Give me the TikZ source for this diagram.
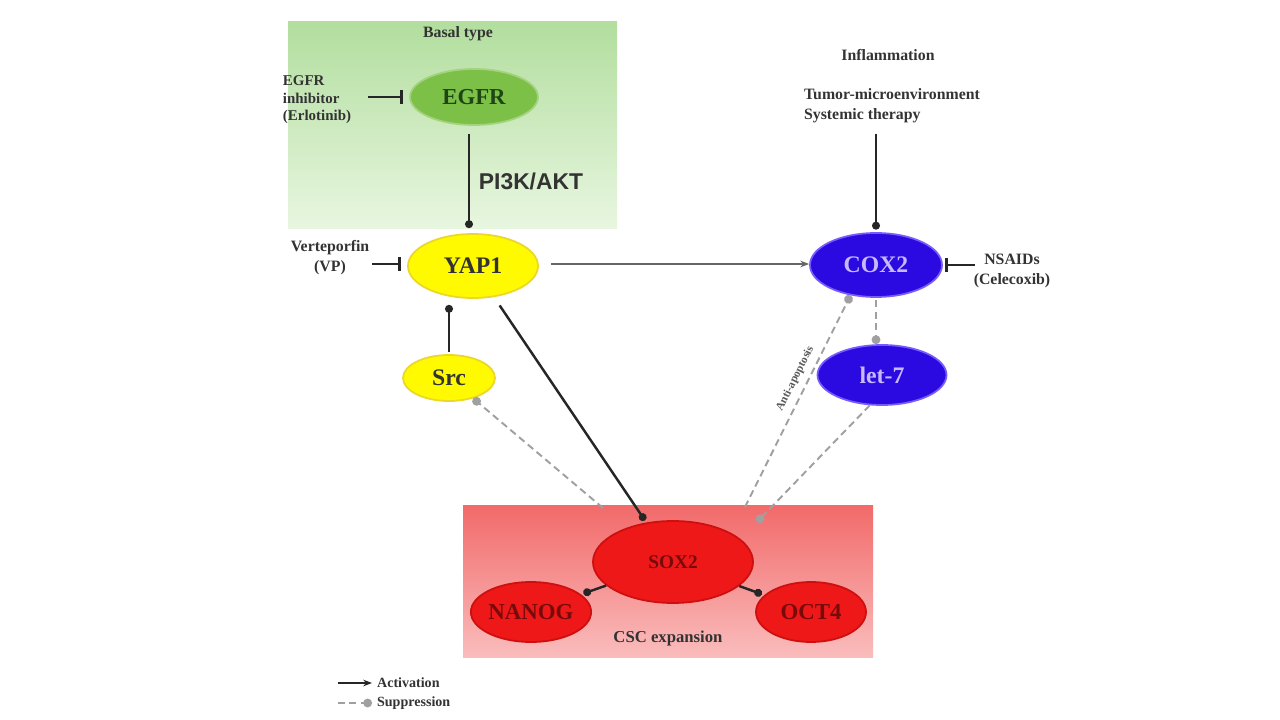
\documentclass[tikz,border=0pt]{standalone}
\usepackage{fontspec}
\setmainfont{Liberation Serif}
\newfontfamily\labelsans{Liberation Sans}
\usetikzlibrary{arrows.meta,shapes.geometric}
\definecolor{egfrgreen}{RGB}{125,192,72}
\definecolor{egfrtext}{RGB}{30,70,20}
\definecolor{ylw}{RGB}{255,250,0}
\definecolor{ylwborder}{RGB}{235,215,40}
\definecolor{blu}{RGB}{42,10,225}
\definecolor{bluborder}{RGB}{120,90,255}
\definecolor{blutext}{RGB}{200,185,255}
\definecolor{rd}{RGB}{238,24,24}
\definecolor{rdborder}{RGB}{205,15,15}
\definecolor{rdtext}{RGB}{120,10,10}
\definecolor{supgray}{RGB}{160,160,160}
\begin{document}
\begin{tikzpicture}[x=0.2mm,y=-0.2mm,font=\bfseries,
  ell/.style={ellipse,draw,line width=1pt,inner sep=0pt},
  gell/.style={ell,fill=egfrgreen,draw=egfrgreen!70!white,text=egfrtext,font=\fontsize{13}{14}\selectfont\bfseries},
  yell/.style={ell,fill=ylw,draw=ylwborder,text=black!80,font=\fontsize{13.5}{14}\selectfont\bfseries},
  bell/.style={ell,fill=blu,draw=bluborder,text=blutext,font=\fontsize{13.5}{14}\selectfont\bfseries},
  rell/.style={ell,fill=rd,draw=rdborder,text=rdtext,font=\fontsize{13}{14}\selectfont\bfseries},
  small/.style={font=\fontsize{9}{11.4}\selectfont\bfseries,text=black!80,inner sep=1pt},
  act/.style={line width=1.4pt,draw=black!85,-{Circle[length=4.5pt]}},
  sup/.style={line width=1.1pt,draw=supgray,dash pattern=on 4pt off 2.5pt,-{Circle[length=5pt,fill=supgray]}},
  inh/.style={line width=1.7pt,draw=black!85,-{Bar[width=8pt,line width=1.7pt]}},
  plain/.style={line width=1pt,draw=black!60,-{Stealth[length=5pt]}}]
\useasboundingbox (0,0) rectangle (1280,720);
% background boxes
\node[minimum width=65.8mm,minimum height=41.2mm,inner sep=0pt,
  top color={rgb,255:red,178;green,222;blue,158},bottom color={rgb,255:red,232;green,246;blue,224}] (basalbox) at (452.5,125) {};
\node[minimum width=82mm,minimum height=30.4mm,inner sep=0pt,
  top color={rgb,255:red,242;green,106;blue,106},bottom color={rgb,255:red,250;green,188;blue,188}] (cscbox) at (668,581) {};
% texts
\node[small] (basal) at (458,34) {Basal type};
\node[small,align=left,font=\fontsize{8.5}{10}\selectfont\bfseries] (egfri) at (317,100) {EGFR\\inhibitor\\(Erlotinib)};
\node[small] (pi3k) at (531,181) {\labelsans\fontsize{13}{14}\selectfont PI3K/AKT};
\node[small,align=center] (vp) at (330,258) {Verteporfin\\(VP)};
\node[small] (infl) at (888,55) {Inflammation};
\node[small,align=left,anchor=north west] (tumor) at (802,86) {Tumor-microenvironment\\Systemic therapy};
\node[small,align=center] (nsaids) at (1012,271) {NSAIDs\\(Celecoxib)};
\node[small,font=\fontsize{9.5}{11}\selectfont\bfseries] (csc) at (668,638) {CSC expansion};
% main nodes
\node[gell,minimum width=25.6mm,minimum height=11.2mm] (egfr) at (474,97) {EGFR};
\node[yell,minimum width=26mm,minimum height=12.8mm] (yap) at (473,266) {YAP1};
\node[yell,minimum width=18.4mm,minimum height=9.2mm] (src) at (449,378) {Src};
\node[bell,minimum width=26.4mm,minimum height=12.8mm] (cox) at (876,265) {COX2};
\node[bell,minimum width=25.8mm,minimum height=12mm] (let) at (882,375) {let-7};
\node[rell,minimum width=32mm,minimum height=16.4mm,font=\fontsize{11}{12}\selectfont\bfseries] (sox) at (673,562) {SOX2};
\node[rell,minimum width=22mm,minimum height=12mm] (nanog) at (531,612) {NANOG};
\node[rell,minimum width=22mm,minimum height=12mm] (oct) at (811,612) {OCT4};
% coordinates
\coordinate (c1) at (603,508);
\coordinate (c2) at (745,507);
\coordinate (c3) at (757,522);
% connectors
\draw[inh,shorten <=3mm,shorten >=1.2mm] (egfri.east |- egfr) -- (egfr.west);
\draw[act,shorten <=1.6mm,shorten >=1mm] ([xshift=-1mm]egfr.south) -- ([xshift=-1mm]egfr.south |- yap.north);
\draw[inh,shorten <=0.2mm,shorten >=1.2mm] ([yshift=0.4mm]vp.east |- yap.west) -- ([yshift=0.4mm]yap.west);
\draw[plain,shorten <=2.4mm] ([yshift=0.4mm]yap.east) -- ([yshift=0.4mm]yap.east -| cox.west);
\draw[act,shorten <=0.5mm,shorten >=1.2mm] (src.north) -- (src.north |- yap.south);
\draw[act,shorten <=2mm,shorten >=0.5mm] (yap) -- (sox);
\draw[sup] (c1) -- (src);
\draw[act,shorten >=0.5mm] (sox) -- (nanog);
\draw[act,shorten >=0.5mm] (sox) -- (oct);
\draw[act,shorten <=1.8mm,shorten >=0.5mm] (tumor.south -| cox) -- (cox.north);
\draw[inh,shorten <=-0.6mm,shorten >=0.5mm] (nsaids.west |- cox) -- (cox.east);
\draw[sup,shorten <=0.5mm] (cox.south) -- (cox.south |- let.north);
\draw[sup] (c2) -- node[pos=0.58,sloped,above=3pt,font=\fontsize{6.5}{7}\selectfont\bfseries,text=black!65,inner sep=0.5pt] (anti) {Anti-apoptosis} (cox.-130);
\draw[sup] (let.-112) -- (c3);
% legend
\coordinate (l1a) at (338,683); \coordinate (l1b) at (372,683);
\coordinate (l2a) at (338,703); \coordinate (l2b) at (372,703);
\draw[line width=1.4pt,draw=black!85,-{Stealth[length=5pt]}] (l1a) -- (l1b);
\draw[sup] (l2a) -- (l2b);
\node[small,anchor=west,font=\fontsize{8}{9}\selectfont\bfseries] (lact) at (375,683) {Activation};
\node[small,anchor=west,font=\fontsize{8}{9}\selectfont\bfseries] (lsup) at (375,703) {Suppression};
\end{tikzpicture}
\end{document}
